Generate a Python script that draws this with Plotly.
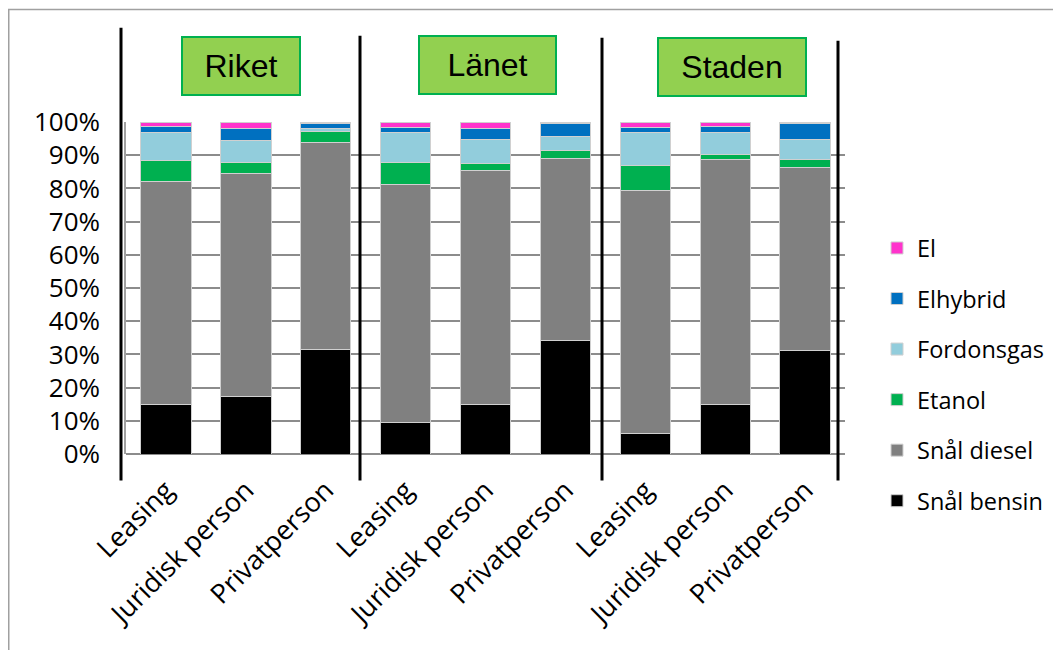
import plotly.graph_objects as go

# ---- data ----
regions = ["Riket", "Länet", "Staden"]
buyer_types = ["Leasing", "Juridisk person", "Privatperson"]
series_names = ["Snål bensin", "Snål diesel", "Etanol", "Fordonsgas", "Elhybrid", "El"]
series_colors = ["#000000", "#808080", "#00B050", "#92CDDC", "#0070C0", "#FF33CC"]

# values per bar in order: Riket(L,J,P), Länet(L,J,P), Staden(L,J,P)
snal_bensin = [14.8, 17.2, 31.5, 9.4, 15.0, 34.3, 6.2, 15.0, 31.2]
snal_diesel = [67.3, 67.2, 62.3, 71.9, 70.5, 54.7, 73.2, 73.6, 55.0]
etanol      = [6.4, 3.3, 3.2, 6.5, 1.9, 2.5, 7.6, 1.7, 2.5]
fordonsgas  = [8.4, 6.6, 1.0, 9.0, 7.2, 4.1, 9.8, 6.4, 6.0]
elhybrid    = [1.7, 3.8, 1.5, 1.6, 3.5, 3.8, 1.6, 1.8, 4.7]
el          = [1.4, 1.9, 0.5, 1.6, 1.9, 0.6, 1.6, 1.5, 0.6]
series_values = [snal_bensin, snal_diesel, etanol, fordonsgas, elhybrid, el]

tick_labels = [b for _ in regions for b in buyer_types]
xpos = list(range(len(tick_labels)))
y_ticks = list(range(0, 101, 10))
y_tick_text = [f"{v}%" for v in y_ticks]

FONT = "Open Sans"
W, H = 1061, 650
OFF = 8  # page body margin: screen px = figure px + OFF
L, R, T, B = 126 - OFF, 845 - OFF, 121.5 - OFF, 454.5 - OFF

def px_x(p):  # screen px -> paper
    return (p - OFF - L) / (R - L)

def px_y(p):
    return (B - (p - OFF)) / (B - T)

fig = go.Figure()
n = len(series_names)
for i, (name, color, vals) in enumerate(zip(series_names, series_colors, series_values)):
    fig.add_trace(go.Bar(
        x=xpos, y=vals, name=name, legendgroup=name, legendrank=n - i,
        marker=dict(color=color, line=dict(color="#D0D0D0", width=1)),
        width=0.63,
    ))

shapes = []
# outer frame
shapes.append(dict(type="rect", xref="paper", yref="paper",
                   x0=px_x(8.75), x1=px_x(1085), y0=px_y(8.75), y1=px_y(680),
                   line=dict(color="#A0A0A0", width=1.5), layer="below"))
# separator lines
for xp, ytop in [(121, 27), (360, 35), (602, 37), (838, 40)]:
    shapes.append(dict(type="line", xref="paper", yref="paper",
                       x0=px_x(xp), x1=px_x(xp), y0=px_y(ytop), y1=px_y(481),
                       line=dict(color="#000000", width=3)))

annotations = []
for reg, (cx, cy, bw) in zip(regions, [(241, 65, 114), (487, 64.5, 133), (732, 66.5, 144)]):
    annotations.append(dict(
        text=reg, xref="paper", yref="paper", x=px_x(cx), y=px_y(cy),
        xanchor="center", yanchor="middle", showarrow=False,
        font=dict(family="Liberation Sans, Arial", size=32, color="#000000"),
        bgcolor="#92D050", bordercolor="#00B050", borderwidth=2,
        width=bw, height=54,
    ))

fig.update_layout(
    width=W, height=H,
    margin=dict(l=L, r=W - R, t=T, b=H - B, autoexpand=False),
    paper_bgcolor="#FFFFFF", plot_bgcolor="#FFFFFF",
    barmode="stack", bargap=0.37,
    font=dict(family=FONT, color="#000000"),
    showlegend=True,
    legend=dict(
        traceorder="grouped", x=px_x(877), y=px_y(226), xanchor="left", yanchor="top",
        font=dict(family=FONT, size=23.5, color="#000000"),
        tracegroupgap=17, itemwidth=30, bgcolor="rgba(0,0,0,0)",
    ),
    xaxis=dict(
        tickmode="array", tickvals=xpos, ticktext=tick_labels,
        range=[-0.5, len(xpos) - 0.5], tickangle=-45,
        tickfont=dict(family=FONT, size=27, color="#000000"),
        showgrid=False, showline=False, zeroline=False, ticks="",
        ticklabelstandoff=14,
    ),
    yaxis=dict(
        range=[0, 100], tickmode="array", tickvals=y_ticks, ticktext=y_tick_text,
        tickfont=dict(family=FONT, size=26, color="#000000"),
        showgrid=True, gridcolor="#8C8C8C", gridwidth=2,
        showline=True, linecolor="#A0A0A0", linewidth=1.5,
        zeroline=True, zerolinecolor="#8C8C8C", zerolinewidth=2,
        ticks="", ticklabelstandoff=19,
    ),
    shapes=shapes, annotations=annotations,
)

fig.write_html("out.html")
